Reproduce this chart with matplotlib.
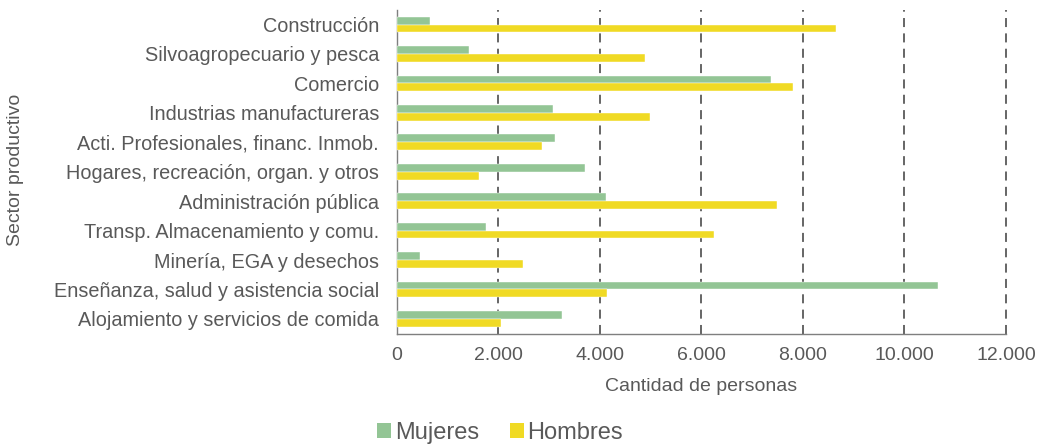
import numpy as np
import matplotlib
matplotlib.use("Agg")
from matplotlib import pyplot as plt
from matplotlib.patches import Patch

plt.rcParams['font.family'] = ['Liberation Sans', 'DejaVu Sans']

# sectores, de arriba hacia abajo
sectores = [
    'Construcción',
    'Silvoagropecuario y pesca',
    'Comercio',
    'Industrias manufactureras',
    'Acti. Profesionales, financ. Inmob.',
    'Hogares, recreación, organ. y otros',
    'Administración pública',
    'Transp. Almacenamiento y comu.',
    'Minería, EGA y desechos',
    'Enseñanza, salud y asistencia social',
    'Alojamiento y servicios de comida',
]
mujeres = [650, 1410, 7370, 3080, 3110, 3700, 4120, 1750, 460, 10660, 3260]
hombres = [8645, 4880, 7800, 4980, 2850, 1610, 7485, 6240, 2480, 4145, 2055]
x_ticks = [0, 2000, 4000, 6000, 8000, 10000, 12000]
x_ticklabels = ['0', '2.000', '4.000', '6.000', '8.000', '10.000', '12.000']

verde = '#93C595'
amarillo = '#F0DA24'
gris = '#595959'

fig = plt.figure(figsize=(10.4, 4.46), dpi=100)
ax = fig.add_axes([0.3817, 0.252, 0.5856, 0.726])

y = np.arange(len(sectores))
h = 0.265
ax.barh(y - h / 2, mujeres, height=h, color=verde, edgecolor='white', linewidth=0.3, zorder=3)
ax.barh(y + h / 2, hombres, height=h, color=amarillo, edgecolor='white', linewidth=0.3, zorder=3)

ax.set_ylim(len(sectores) - 0.5, -0.5)
ax.set_xlim(0, 12000)
ax.set_yticks(y)
ax.set_yticklabels(sectores, fontsize=14.3, color=gris)
ax.set_xticks(x_ticks)
ax.set_xticklabels(x_ticklabels, fontsize=14, color=gris)
ax.tick_params(axis='y', length=0, pad=13)
ax.tick_params(axis='x', length=0, pad=10)

for xv in x_ticks[1:]:
    ax.axvline(xv, color=gris, linewidth=1.3, linestyle=(0, (5, 3.5)), zorder=1, clip_on=False)

for s in ['top', 'right']:
    ax.spines[s].set_visible(False)
ax.spines['left'].set_color('#7f7f7f')
ax.spines['bottom'].set_color('#7f7f7f')
ax.spines['left'].set_linewidth(1.0)
ax.spines['bottom'].set_linewidth(1.0)

ax.set_xlabel('Cantidad de personas', fontsize=14, color=gris, labelpad=10)
fig.text(0.015, 0.62, 'Sector productivo', rotation=90, fontsize=14, color=gris,
         ha='center', va='center')

handles = [Patch(facecolor=verde, label='Mujeres'), Patch(facecolor=amarillo, label='Hombres')]
leg = fig.legend(handles=handles, loc='center', bbox_to_anchor=(0.481, 0.03), ncol=2,
                 frameon=False, fontsize=17, handlelength=0.6, handleheight=0.6,
                 handletextpad=0.15, columnspacing=1.3)
for t in leg.get_texts():
    t.set_color(gris)

fig.savefig('out.png', dpi=100)
